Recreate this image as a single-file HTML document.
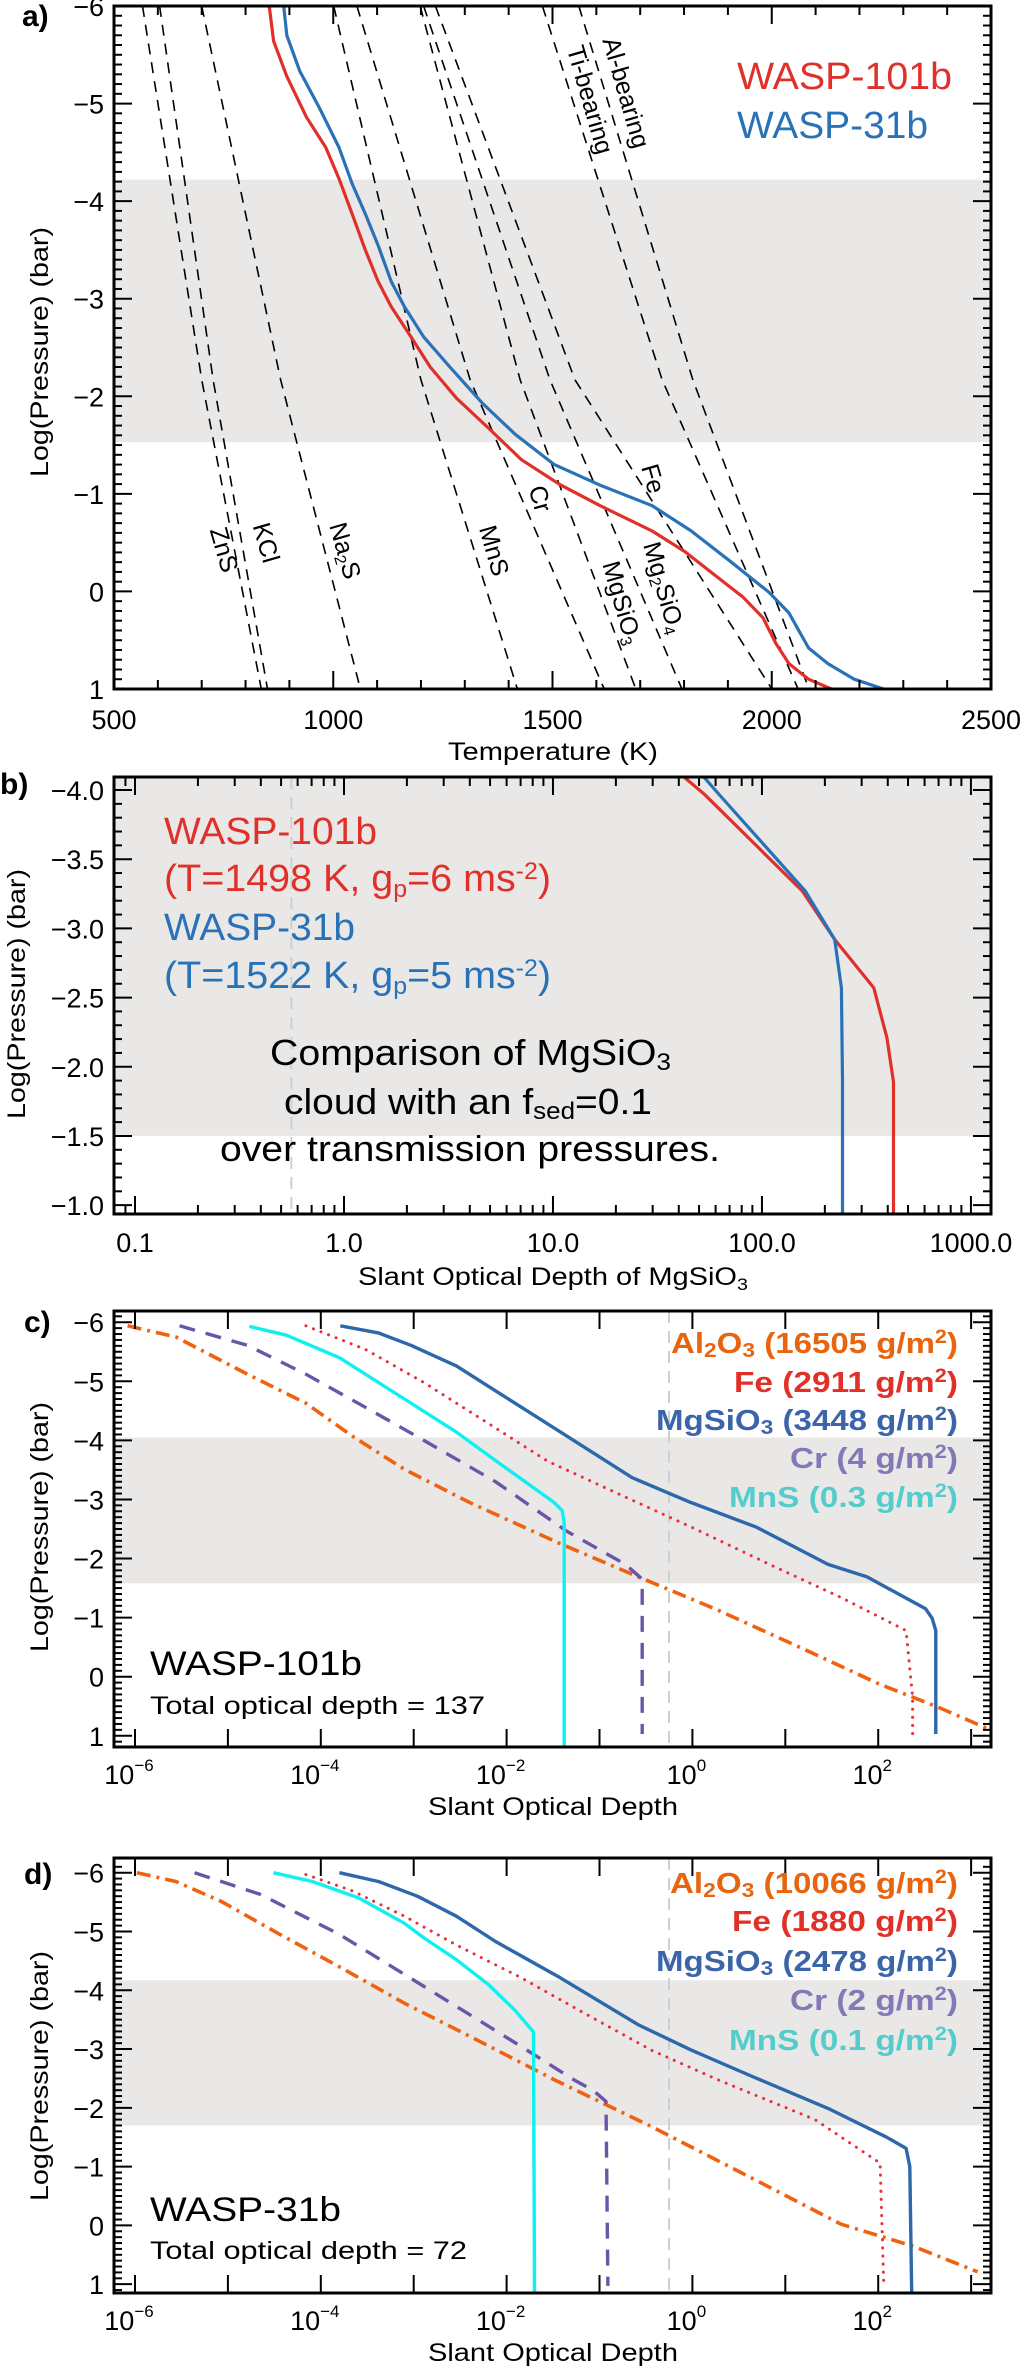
<!DOCTYPE html>
<html><head><meta charset="utf-8">
<style>
html,body{margin:0;padding:0;background:#fff;}
svg{display:block;font-family:"Liberation Sans",sans-serif;}
.tk{font-size:27px;fill:#000;}
.ttl{font-size:25px;fill:#000;}
.nar{font-family:"Liberation Sans Narrow","Liberation Sans",sans-serif;}
</style></head>
<body>
<svg id="fig" xmlns="http://www.w3.org/2000/svg" width="1022" height="2369" viewBox="0 0 1022 2369">
<g id="layer-bands"></g>
<g id="layer-lines"></g>
<g id="layer-axes"></g>

<!-- Panel a texts -->
<text x="22" y="26" font-size="30" font-weight="bold">a)</text>
<text class="ttl" x="553" y="760" text-anchor="middle" textLength="210" lengthAdjust="spacingAndGlyphs">Temperature (K)</text>
<text class="ttl" transform="translate(48,352) rotate(-90)" text-anchor="middle" textLength="250" lengthAdjust="spacingAndGlyphs">Log(Pressure) (bar)</text>
<text class="nar" x="737" y="89" font-size="38" fill="#e0302a" textLength="215" lengthAdjust="spacingAndGlyphs">WASP-101b</text>
<text class="nar" x="737" y="138" font-size="38" fill="#2a72b8" textLength="191" lengthAdjust="spacingAndGlyphs">WASP-31b</text>
<g font-size="25" fill="#000" text-anchor="middle">
<text transform="translate(216,552) rotate(74)">ZnS</text>
<text transform="translate(258,545) rotate(74)">KCl</text>
<text transform="translate(337,553) rotate(74)">Na<tspan font-size="16" baseline-shift="-4">2</tspan>S</text>
<text transform="translate(486,553) rotate(74)">MnS</text>
<text transform="translate(532,501) rotate(74)">Cr</text>
<text transform="translate(614,605) rotate(74)">MgSiO<tspan font-size="16" baseline-shift="-4">3</tspan></text>
<text transform="translate(656,590) rotate(74)">Mg<tspan font-size="16" baseline-shift="-4">2</tspan>SiO<tspan font-size="16" baseline-shift="-4">4</tspan></text>
<text transform="translate(645,481) rotate(74)">Fe</text>
<text transform="translate(582,102) rotate(74)">Ti-bearing</text>
<text transform="translate(618,95) rotate(74)">Al-bearing</text>
</g>

<!-- Panel b texts -->
<text x="0" y="794" font-size="30" font-weight="bold">b)</text>
<text class="ttl" x="553" y="1285" text-anchor="middle" textLength="390" lengthAdjust="spacingAndGlyphs">Slant Optical Depth of MgSiO<tspan font-size="17" baseline-shift="-5">3</tspan></text>
<text class="ttl" transform="translate(25,994) rotate(-90)" text-anchor="middle" textLength="250" lengthAdjust="spacingAndGlyphs">Log(Pressure) (bar)</text>
<g class="nar" font-size="38">
<text x="164" y="844" fill="#e0302a" textLength="213" lengthAdjust="spacingAndGlyphs">WASP-101b</text>
<text x="164" y="891" fill="#e0302a" textLength="387" lengthAdjust="spacingAndGlyphs">(T=1498 K, g<tspan font-size="24" baseline-shift="-6">p</tspan>=6 ms<tspan font-size="24" baseline-shift="12">-2</tspan>)</text>
<text x="164" y="940" fill="#2a72b8" textLength="191" lengthAdjust="spacingAndGlyphs">WASP-31b</text>
<text x="164" y="988" fill="#2a72b8" textLength="387" lengthAdjust="spacingAndGlyphs">(T=1522 K, g<tspan font-size="24" baseline-shift="-6">p</tspan>=5 ms<tspan font-size="24" baseline-shift="12">-2</tspan>)</text>
</g>
<g class="nar" font-size="36" fill="#000">
<text x="270" y="1065" textLength="401" lengthAdjust="spacingAndGlyphs">Comparison of MgSiO<tspan font-size="24" baseline-shift="-5">3</tspan></text>
<text x="284" y="1114" textLength="368" lengthAdjust="spacingAndGlyphs">cloud with an f<tspan font-size="24" baseline-shift="-5">sed</tspan>=0.1</text>
<text x="220" y="1161" textLength="500" lengthAdjust="spacingAndGlyphs">over transmission pressures.</text>
</g>

<!-- Panel c texts -->
<text x="24" y="1332" font-size="30" font-weight="bold">c)</text>
<text class="ttl" x="553" y="1815" text-anchor="middle" textLength="250" lengthAdjust="spacingAndGlyphs">Slant Optical Depth</text>
<text class="ttl" transform="translate(48,1527) rotate(-90)" text-anchor="middle" textLength="250" lengthAdjust="spacingAndGlyphs">Log(Pressure) (bar)</text>
<g font-size="29" font-weight="bold" text-anchor="end">
<text x="958" y="1353" fill="#e8650f" textLength="287" lengthAdjust="spacingAndGlyphs">Al<tspan font-size="20" baseline-shift="-4">2</tspan>O<tspan font-size="20" baseline-shift="-4">3</tspan> (16505 g/m<tspan font-size="19" baseline-shift="10">2</tspan>)</text>
<text x="958" y="1392" fill="#e03028" textLength="224" lengthAdjust="spacingAndGlyphs">Fe (2911 g/m<tspan font-size="19" baseline-shift="10">2</tspan>)</text>
<text x="958" y="1430" fill="#3b65a8" textLength="302" lengthAdjust="spacingAndGlyphs">MgSiO<tspan font-size="20" baseline-shift="-4">3</tspan> (3448 g/m<tspan font-size="19" baseline-shift="10">2</tspan>)</text>
<text x="958" y="1468" fill="#8478b8" textLength="168" lengthAdjust="spacingAndGlyphs">Cr (4 g/m<tspan font-size="19" baseline-shift="10">2</tspan>)</text>
<text x="958" y="1507" fill="#55cccc" textLength="229" lengthAdjust="spacingAndGlyphs">MnS (0.3 g/m<tspan font-size="19" baseline-shift="10">2</tspan>)</text>
</g>
<text class="nar" x="150" y="1675" font-size="34" textLength="212" lengthAdjust="spacingAndGlyphs">WASP-101b</text>
<text class="nar" x="150" y="1714" font-size="25" textLength="335" lengthAdjust="spacingAndGlyphs">Total optical depth = 137</text>

<!-- Panel d texts -->
<text x="24" y="1884" font-size="30" font-weight="bold">d)</text>
<text class="ttl" x="553" y="2361" text-anchor="middle" textLength="250" lengthAdjust="spacingAndGlyphs">Slant Optical Depth</text>
<text class="ttl" transform="translate(48,2076) rotate(-90)" text-anchor="middle" textLength="250" lengthAdjust="spacingAndGlyphs">Log(Pressure) (bar)</text>
<g font-size="29" font-weight="bold" text-anchor="end">
<text x="958" y="1893" fill="#e8650f" textLength="288" lengthAdjust="spacingAndGlyphs">Al<tspan font-size="20" baseline-shift="-4">2</tspan>O<tspan font-size="20" baseline-shift="-4">3</tspan> (10066 g/m<tspan font-size="19" baseline-shift="10">2</tspan>)</text>
<text x="958" y="1931" fill="#e03028" textLength="226" lengthAdjust="spacingAndGlyphs">Fe (1880 g/m<tspan font-size="19" baseline-shift="10">2</tspan>)</text>
<text x="958" y="1971" fill="#3b65a8" textLength="302" lengthAdjust="spacingAndGlyphs">MgSiO<tspan font-size="20" baseline-shift="-4">3</tspan> (2478 g/m<tspan font-size="19" baseline-shift="10">2</tspan>)</text>
<text x="958" y="2010" fill="#8478b8" textLength="168" lengthAdjust="spacingAndGlyphs">Cr (2 g/m<tspan font-size="19" baseline-shift="10">2</tspan>)</text>
<text x="958" y="2050" fill="#55cccc" textLength="229" lengthAdjust="spacingAndGlyphs">MnS (0.1 g/m<tspan font-size="19" baseline-shift="10">2</tspan>)</text>
</g>
<text class="nar" x="150" y="2221" font-size="34" textLength="191" lengthAdjust="spacingAndGlyphs">WASP-31b</text>
<text class="nar" x="150" y="2259" font-size="25" textLength="317" lengthAdjust="spacingAndGlyphs">Total optical depth = 72</text>
</svg>

<script>
// ---------- Panel a data ----------
const aRedT = [854,864,894,939,983,1013,1043,1073,1102,1132,1177,1221,1281,1355,1429,1519,1608,1727,1801,1875,1935,1980,2009,2039,2084,2136];
const aRedP = [-6,-5.64,-5.28,-4.86,-4.55,-4.23,-3.87,-3.50,-3.18,-2.92,-2.61,-2.30,-1.98,-1.67,-1.35,-1.09,-0.88,-0.62,-0.41,-0.15,0.06,0.27,0.53,0.74,0.90,1.0];
const aBlueT = [887,894,924,968,1013,1043,1073,1102,1132,1162,1206,1266,1340,1415,1504,1608,1727,1816,1905,1994,2039,2084,2128,2188,2255];
const aBlueP = [-6,-5.70,-5.33,-4.96,-4.55,-4.18,-3.87,-3.55,-3.18,-2.92,-2.61,-2.30,-1.93,-1.61,-1.30,-1.09,-0.88,-0.62,-0.31,0.01,0.22,0.58,0.74,0.90,1.0];
const condNames = ['ZnS','KCl','Na2S','MnS','Cr','MgSiO3','Mg2SiO4','Fe','Ti-bearing','Al-bearing'];
const condTopT = [565,604,700,1001,1054,1198,1206,1233,1477,1560];
const condMidT = [700,726,880,1200,1312,1426,1494,1551,1750,1820];
const condBotT = [836,850,1062,1420,1618,1690,1795,2000,2060,2085];
const condP = [-6,-2.17,1];
const bandA = [-4.22,-1.53];
const aXTicks = [500,1000,1500,2000,2500];
const aYTicks = [-6,-5,-4,-3,-2,-1,0,1];

// ---------- Panel b data ----------
const bRedTau = [42.7,53,156,223,343,396,426,426];
const bRedP = [-4.09,-3.97,-3.27,-2.92,-2.57,-2.21,-1.89,-0.94];
const bBlueTau = [53,63,161,223,240,243,243];
const bBlueP = [-4.09,-3.96,-3.27,-2.92,-2.57,-1.9,-0.94];
const bandB = [-4.2,-1.5];
const bXTickVals = [0.1,1,10,100,1000];
const bXTickLabels = ['0.1','1.0','10.0','100.0','1000.0'];
const bYTicks = [-4.0,-3.5,-3.0,-2.5,-2.0,-1.5,-1.0];
const tauLimit = 0.56;

// ---------- Panel c data (log10 tau) ----------
const cAlLogTau = [-6.08,-5.56,-4.79,-4.16,-3.66,-3.10,-2.40,-1.42,-0.58,0.27,1.25,2.02,2.65,3.21];
const cAlP = [-5.94,-5.75,-5.12,-4.63,-4.07,-3.51,-2.95,-2.25,-1.69,-1.13,-0.43,0.13,0.52,0.90];
const cFeLogTau = [-4.16,-3.52,-2.89,-2.26,-1.56,-0.79,-0.01,0.83,1.60,2.30,2.37,2.37];
const cFeP = [-5.94,-5.54,-4.98,-4.35,-3.65,-3.09,-2.53,-1.90,-1.34,-0.78,0.34,0.97];
const cMgLogTau = [-3.79,-3.38,-3.03,-2.54,-2.05,-1.35,-0.65,-0.02,0.69,1.46,1.88,2.51,2.58,2.62,2.62];
const cMgP = [-5.94,-5.82,-5.61,-5.26,-4.77,-4.07,-3.37,-2.95,-2.53,-1.90,-1.69,-1.15,-0.99,-0.78,0.97];
const cCrLogTau = [-5.52,-4.79,-4.16,-3.52,-2.89,-2.12,-1.35,-0.72,-0.54,-0.54];
const cCrP = [-5.94,-5.61,-5.12,-4.56,-4.00,-3.30,-2.46,-1.90,-1.65,0.97];
const cMnLogTau = [-4.77,-4.37,-3.80,-3.10,-2.54,-2.05,-1.49,-1.40,-1.38,-1.38];
const cMnP = [-5.93,-5.78,-5.40,-4.70,-4.14,-3.58,-2.95,-2.81,-2.60,1.19];
const bandC = [-4.05,-1.58];

// ---------- Panel d data (log10 tau) ----------
const dAlLogTau = [-5.98,-5.56,-5.07,-4.44,-3.80,-3.10,-2.40,-1.49,-0.44,0.62,1.60,2.37,3.07];
const dAlP = [-6,-5.85,-5.51,-4.95,-4.40,-3.78,-3.22,-2.48,-1.68,-0.82,-0.02,0.35,0.79];
const dFeLogTau = [-4.16,-3.66,-3.10,-2.54,-1.84,-1.14,-0.44,0.27,1.32,2.02,2.06];
const dFeP = [-5.97,-5.69,-5.26,-4.77,-4.21,-3.59,-2.98,-2.48,-1.80,-1.06,1.03];
const dMgLogTau = [-3.80,-3.38,-2.96,-2.54,-2.12,-1.42,-0.58,-0.01,0.62,1.46,2.09,2.30,2.34,2.36];
const dMgP = [-6,-5.85,-5.60,-5.26,-4.83,-4.21,-3.41,-2.98,-2.55,-1.99,-1.50,-1.31,-1.00,1.15];
const dCrLogTau = [-5.36,-4.65,-3.80,-3.10,-2.40,-1.84,-1.28,-1.07,-0.93,-0.91];
const dCrP = [-6,-5.63,-4.95,-4.27,-3.59,-3.04,-2.48,-2.30,-2.11,1.03];
const dMnLogTau = [-4.51,-4.09,-3.59,-3.10,-2.89,-2.54,-2.19,-1.91,-1.71,-1.70];
const dMnP = [-6,-5.85,-5.57,-5.14,-4.89,-4.52,-4.09,-3.66,-3.29,1.15];
const bandD = [-4.17,-1.70];
const cdXTickExp = [-6,-4,-2,0,2];
const cdYTicks = [-6,-5,-4,-3,-2,-1,0,1];

const NS = 'http://www.w3.org/2000/svg';
const LB = document.getElementById('layer-bands');
const LL = document.getElementById('layer-lines');
const LA = document.getElementById('layer-axes');
function mk(tag, attrs, parent){ const e=document.createElementNS(NS,tag); for(const k in attrs) e.setAttribute(k,attrs[k]); parent.appendChild(e); return e; }

function panel(x0,x1,y0,y1,xmin,xmax,ymin,ymax,logx){
  return {x0,x1,y0,y1,
    sx:v=>{const t=logx?Math.log10(v):v; return x0+(t-xmin)/(xmax-xmin)*(x1-x0);},
    sy:v=>y0+(v-ymin)/(ymax-ymin)*(y1-y0)};
}
const PA = panel(114,991,6,689,500,2500,-6,1,false);
const PB = panel(114,991,777,1214,-1.1005,3.096,-4.094,-0.936,true);
const PC = panel(114,991,1311,1747,-6.226,3.214,-6.19,1.19,false);
const PD = panel(114,991,1858,2293,-6.226,3.214,-6.25,1.15,false);

function band(P, b, name){
  const ya=Math.max(P.y0,P.sy(b[0])), yb=P.sy(b[1]);
  const r=mk('rect',{x:P.x0,y:ya,width:P.x1-P.x0,height:yb-ya,fill:'#e9e8e7'},LB);
  
  
}
function series(P, xs, ys, style, name){
  let d='';
  for(let i=0;i<xs.length;i++){ d+=(i?'L':'M')+P.sx(xs[i]).toFixed(1)+','+P.sy(ys[i]).toFixed(1); }
  const a={d:d,fill:'none','stroke-linejoin':'round'}; for(const k in style) a[k]=style[k];
  const p=mk('path',a,LL);
  
  
}
function vline(P, xpx, name){
  const l=mk('line',{x1:xpx,x2:xpx,y1:P.y0,y2:P.y1,stroke:'#cfcfcf','stroke-width':2,'stroke-dasharray':'12,8'},LB);
  
  
}
function frame(P, name){
  const r=mk('rect',{x:P.x0,y:P.y0,width:P.x1-P.x0,height:P.y1-P.y0,fill:'none',stroke:'#000','stroke-width':3},LA);
  
  
}
function tickX(P, px, len){
  const t1=mk('line',{x1:px,x2:px,y1:P.y1,y2:P.y1-len,stroke:'#000','stroke-width':2},LA);
  
  
  const t2=mk('line',{x1:px,x2:px,y1:P.y0,y2:P.y0+len,stroke:'#000','stroke-width':2},LA);
  
  
}
function tickY(P, py, len){
  const t1=mk('line',{x1:P.x0,x2:P.x0+len,y1:py,y2:py,stroke:'#000','stroke-width':2},LA);
  
  
  const t2=mk('line',{x1:P.x1,x2:P.x1-len,y1:py,y2:py,stroke:'#000','stroke-width':2},LA);
  
  
}
function label(x,y,txt,anchor,name){
  const t=mk('text',{x:x,y:y,'text-anchor':anchor,'class':'tk'},LA);
  t.textContent=txt;
  
  
  return t;
}
const minus = v => (v<0?'\u2212':'')+Math.abs(v);

// ----- Panel a -----
band(PA, bandA, 'band-a');
for(let i=0;i<condNames.length;i++){
  series(PA,[condTopT[i],condMidT[i],condBotT[i]],condP,{stroke:'#000','stroke-width':1.6,'stroke-dasharray':'11,8'},'condensation-curve-'+condNames[i].toLowerCase());
}
series(PA,aRedT,aRedP,{stroke:'#e0302a','stroke-width':3.2},'wasp101b-tp-profile');
series(PA,aBlueT,aBlueP,{stroke:'#2a72b8','stroke-width':3.2},'wasp31b-tp-profile');
frame(PA,'panel-a-frame');
for(let t=500;t<=2500;t+=100){ tickX(PA,PA.sx(t), t%500===0?18:9); }
for(let v=-6;v<=1.001;v+=0.1){ const r=Math.round(v*10)/10; tickY(PA,PA.sy(r), Number.isInteger(r)?18:8); }
aXTicks.forEach(t=>label(PA.sx(t),729,String(t),'middle','a-x-tick-label'));
aYTicks.forEach(v=>label(104,PA.sy(v)+10,minus(v),'end','a-y-tick-label'));

// ----- Panel b -----
band(PB, bandB, 'band-b');
vline(PB, PB.sx(tauLimit), 'b-tau-limit-line');
series(PB,bRedTau,bRedP,{stroke:'#e0302a','stroke-width':3.2},'b-wasp101b-curve');
series(PB,bBlueTau,bBlueP,{stroke:'#2a72b8','stroke-width':3.2},'b-wasp31b-curve');
frame(PB,'panel-b-frame');
for(let e=-2;e<=3;e++){ for(let m=1;m<=9;m++){ const v=m*Math.pow(10,e); const px=PB.sx(v); if(px<PB.x0+1||px>PB.x1-1) continue; tickX(PB,px,m===1?18:9); } }
for(let v=-4.0;v<=-0.999;v+=0.1){ const r=Math.round(v*10)/10; tickY(PB,PB.sy(r), Math.abs(r*2-Math.round(r*2))<1e-6?18:8); }
bXTickVals.forEach((v,i)=>label(PB.sx(v),1252,bXTickLabels[i],'middle','b-x-tick-label'));
bYTicks.forEach(v=>label(104,PB.sy(v)+10,(v<0?'\u2212':'')+Math.abs(v).toFixed(1),'end','b-y-tick-label'));

// ----- Panels c, d -----
function cdPanel(P, bandV, al, alP, fe, feP, mg, mgP, cr, crP, mn, mnP, pre, labY){
  band(P, bandV, pre+'-band');
  vline(P, P.sx(Math.log10(tauLimit)), pre+'-tau-limit-line');
  series(P,al,alP,{stroke:'#f0620f','stroke-width':3.6,'stroke-dasharray':'14,6,3,6'},pre+'-al2o3-curve');
  series(P,fe,feP,{stroke:'#e8303a','stroke-width':3,'stroke-dasharray':'0.1,8','stroke-linecap':'round'},pre+'-fe-curve');
  series(P,mg,mgP,{stroke:'#2c68aa','stroke-width':3.4},pre+'-mgsio3-curve');
  series(P,cr,crP,{stroke:'#6a56a8','stroke-width':3.4,'stroke-dasharray':'16,11'},pre+'-cr-curve');
  series(P,mn,mnP,{stroke:'#10f0f0','stroke-width':3.4},pre+'-mns-curve');
  frame(P,pre+'-frame');
  for(let e=-6;e<=3;e++){ tickX(P,P.sx(e),18); }
  for(let v=-6.1;v<=1.1001;v+=0.1){ const r=Math.round(v*10)/10; const py=P.sy(r); if(py<P.y0+2||py>P.y1-2) continue; tickY(P,py, Number.isInteger(r)?18:8); }
  cdXTickExp.forEach(e=>{
    const t=label(P.sx(e)-6,labY,'10','middle',pre+'-x-tick-label');
    const s=document.createElementNS(NS,'tspan');
    s.setAttribute('font-size','17');
    s.setAttribute('dy','-13');
    s.textContent=minus(e);
    t.appendChild(s);
  });
  cdYTicks.forEach(v=>label(104,P.sy(v)+10,minus(v),'end',pre+'-y-tick-label'));
}
cdPanel(PC,bandC,cAlLogTau,cAlP,cFeLogTau,cFeP,cMgLogTau,cMgP,cCrLogTau,cCrP,cMnLogTau,cMnP,'c',1784);
cdPanel(PD,bandD,dAlLogTau,dAlP,dFeLogTau,dFeP,dMgLogTau,dMgP,dCrLogTau,dCrP,dMnLogTau,dMnP,'d',2330);
</script>
</body></html>
